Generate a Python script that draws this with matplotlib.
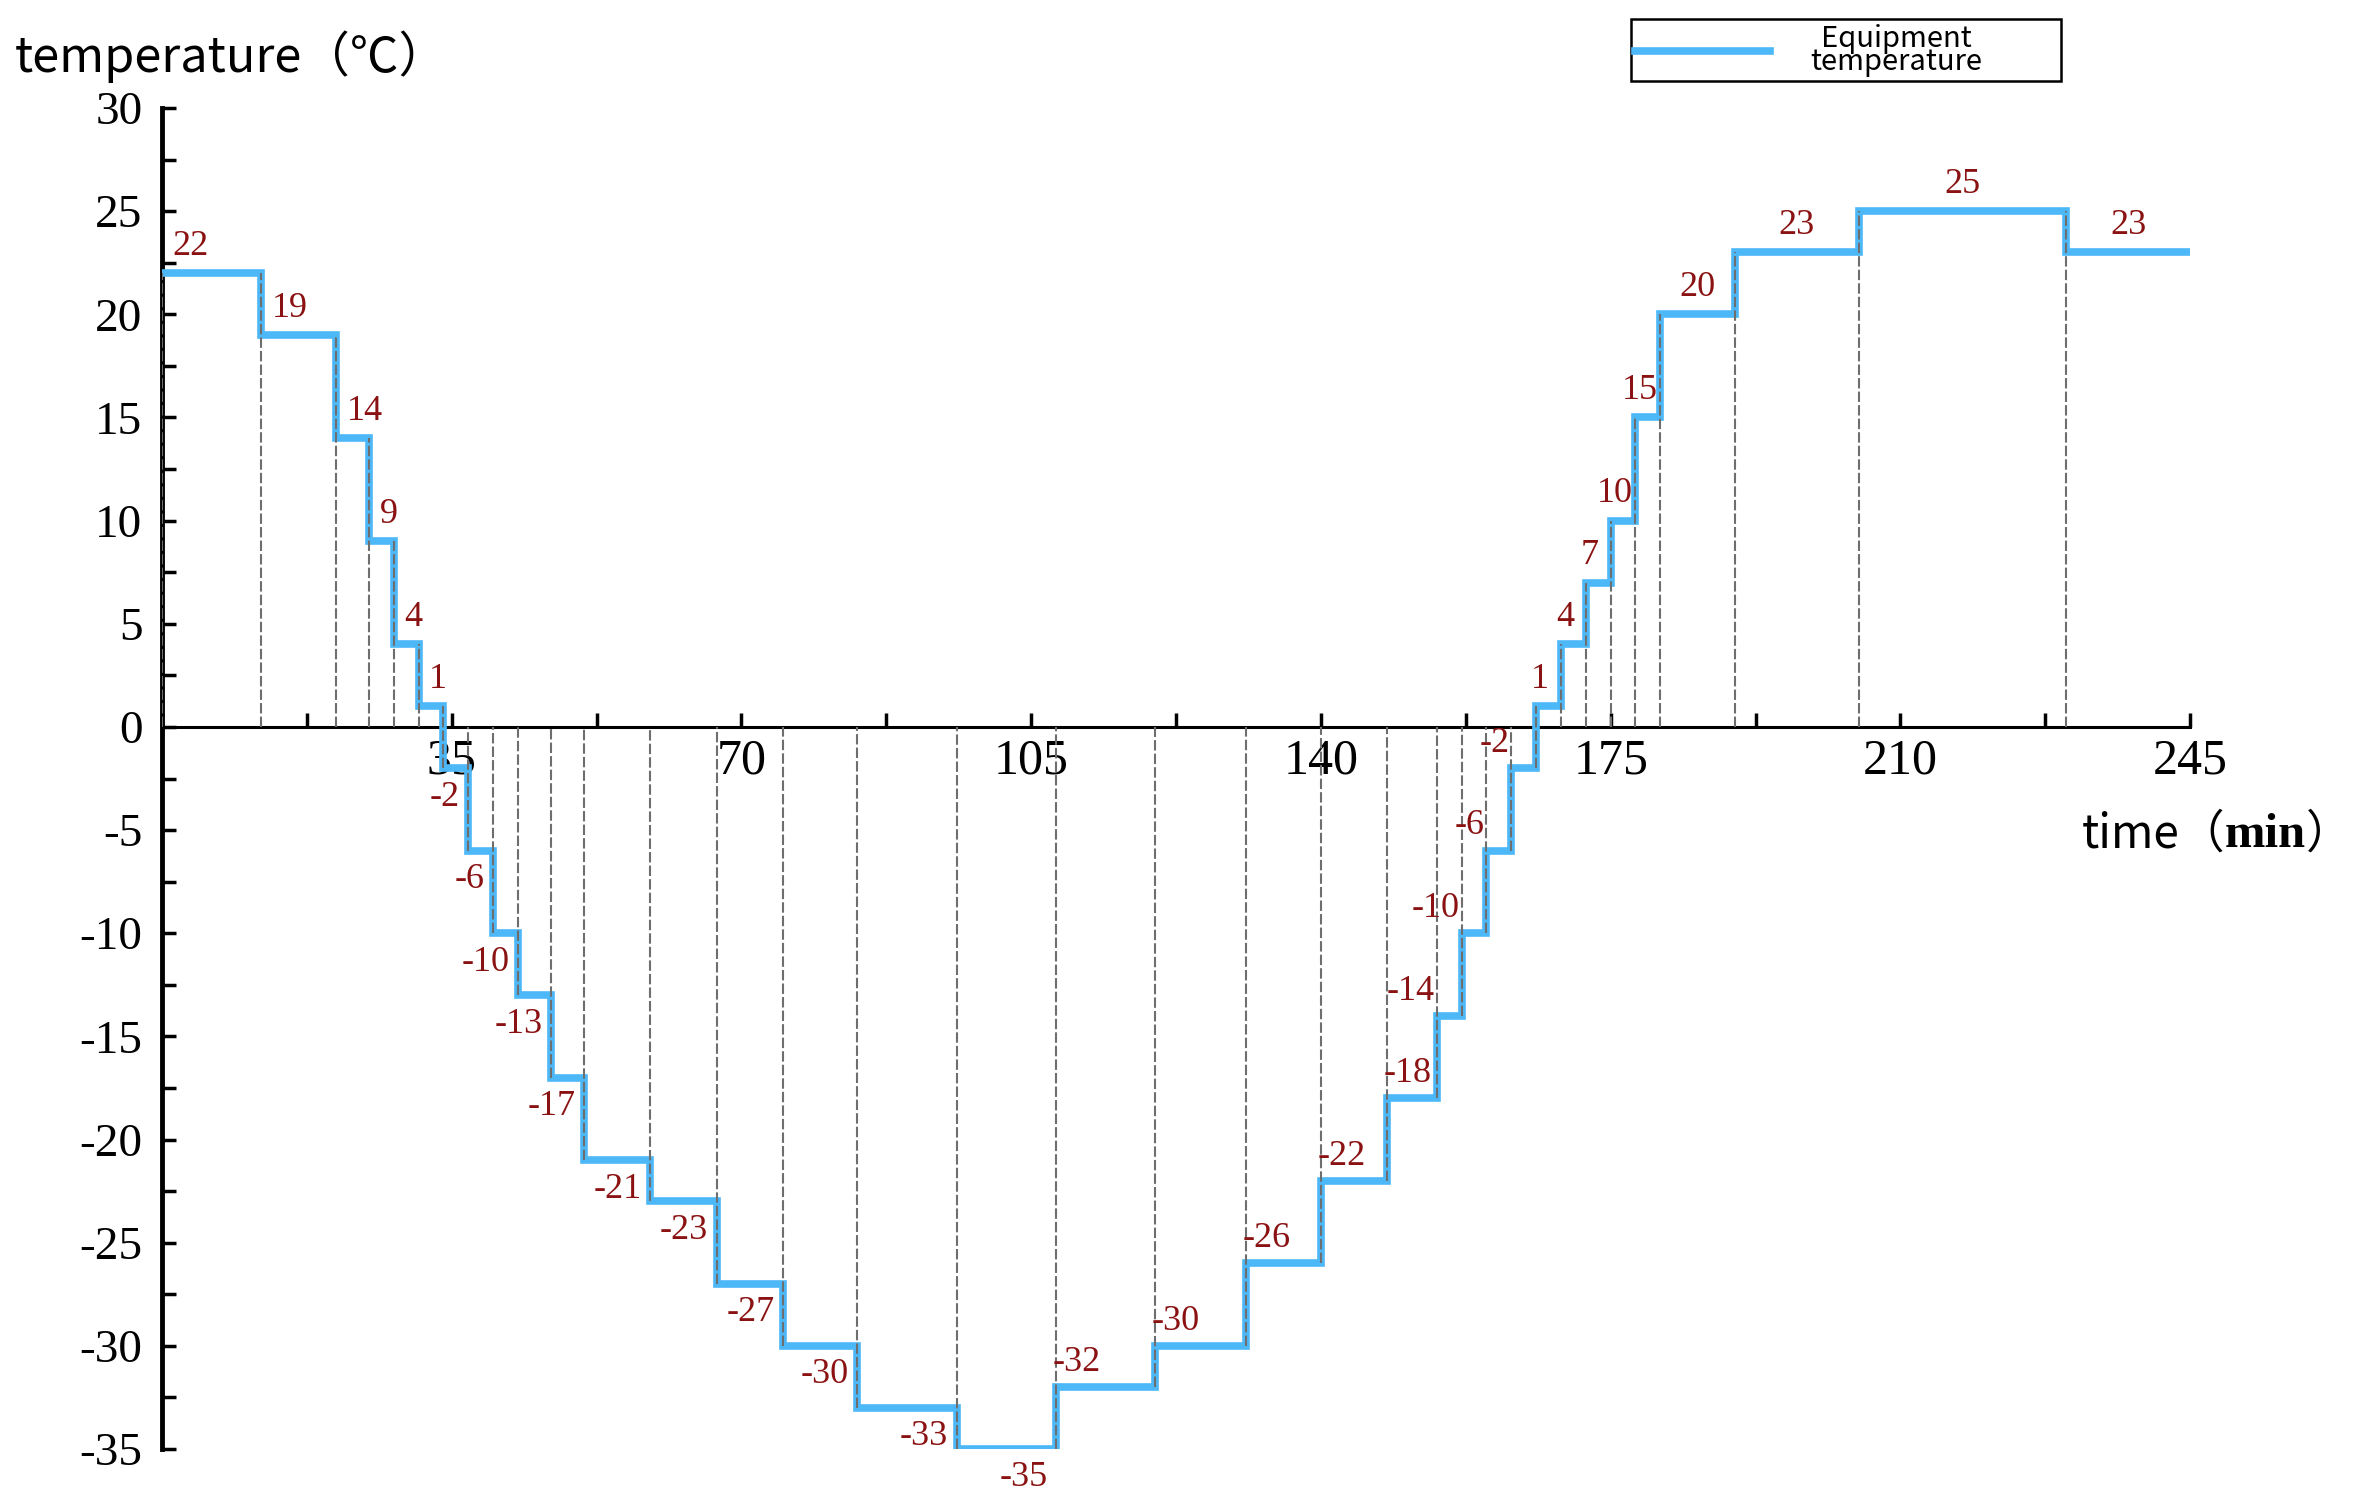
import matplotlib
matplotlib.use("Agg")
import matplotlib.pyplot as plt
from matplotlib.ticker import MultipleLocator
from matplotlib.offsetbox import TextArea, HPacker, AnchoredOffsetbox

plt.rcParams["axes.unicode_minus"] = False

# step profile: time each level starts (min) and the level (deg C)
step_start = [0, 12, 21, 25, 28, 31, 34, 37, 40, 43, 47, 51, 59, 67, 75, 84, 96,
              108, 120, 131, 140, 148, 154, 157, 160, 163, 166, 169, 172, 175,
              178, 181, 190, 205, 230]
step_temp = [22, 19, 14, 9, 4, 1, -2, -6, -10, -13, -17, -21, -23, -27, -30, -33, -35,
             -32, -30, -26, -22, -18, -14, -10, -6, -2, 1, 4, 7, 10,
             15, 20, 23, 25, 23]
end_time = 245

x_ticks = [35, 70, 105, 140, 175, 210, 245]
y_ticks = list(range(-35, 31, 5))

blue = "#4DB8F8"
red = "#8B1212"
serif = "Liberation Serif"
sans = ["Noto Sans CJK SC", "DejaVu Sans"]

fig = plt.figure(figsize=(23.57, 15.07), dpi=100)
ax = fig.add_axes([0.0687, 0.0385, 0.9292 - 0.0687, 0.9283 - 0.0385])

xs = step_start + [end_time]
ys = step_temp + [step_temp[-1]]
ax.step(xs, ys, where="post", color=blue, lw=5.5, solid_joinstyle="miter",
        label="Equipment\ntemperature", zorder=3)

# grey drop lines at every change of level
for i, t in enumerate(step_start):
    prev = step_temp[i - 1] if i > 0 else 0
    cur = step_temp[i]
    lo = min(0, prev, cur)
    hi = max(0, prev, cur)
    ax.vlines(t, lo, hi, colors="#6e6e6e", linestyles=(0, (5, 1.5)), lw=1.5, zorder=4)

# value labels
imin = step_temp.index(min(step_temp))
for i, v in enumerate(step_temp):
    s = step_start[i]
    e = step_start[i + 1] if i + 1 < len(step_start) else end_time
    if i < imin and v >= 0:
        x, y, ha = s + 1.3, v + 1.3, "left"
    elif i <= imin:
        x, y, ha = e - 1.0, v - 1.4, "right"
    elif v < 0 and e - s > 4:
        x, y, ha = s + 2.5, v + 1.2, "center"
    elif v < 0:
        x, y, ha = s - 0.2, v + 1.2, "right"
    elif e - s <= 3:
        x, y, ha = s + 0.5, v + 1.3, "center"
    else:
        x, y, ha = (s + e) / 2, v + 1.3, "center"
    ax.text(x, y, str(v), color=red, fontsize=26, family=serif,
            ha=ha, va="center", zorder=5)

ax.set_xlim(0, end_time)
ax.set_ylim(-35, 30)
ax.spines["top"].set_visible(False)
ax.spines["right"].set_visible(False)
ax.spines["bottom"].set_position(("data", 0))
ax.spines["left"].set_linewidth(3.5)
ax.spines["bottom"].set_linewidth(2.2)

ax.set_xticks(x_ticks)
ax.xaxis.set_minor_locator(MultipleLocator(17.5))
ax.set_yticks(y_ticks)
ax.yaxis.set_minor_locator(MultipleLocator(2.5))
ax.tick_params(axis="both", which="both", direction="in", width=2.5, length=10)
ax.tick_params(axis="x", labelsize=36, pad=8)
ax.tick_params(axis="y", labelsize=34, pad=14)
for lab in ax.get_xticklabels() + ax.get_yticklabels():
    lab.set_family(serif)

fig.text(15 / 2357, 1 - 57 / 1507, "temperature（℃）", family=sans, fontsize=35,
         ha="left", va="center")

xlab = HPacker(children=[
    TextArea("time（", textprops=dict(family=sans, fontsize=33)),
    TextArea("min", textprops=dict(family=serif, fontsize=35, weight="bold")),
    TextArea("）", textprops=dict(family=sans, fontsize=33)),
], align="baseline", pad=0, sep=0)
box = AnchoredOffsetbox(loc="center right", child=xlab, frameon=False, pad=0,
                        bbox_to_anchor=(2352 / 2357, 1 - 834 / 1507),
                        bbox_transform=fig.transFigure, borderpad=0)
fig.add_artist(box)

leg = ax.legend(loc="lower left",
                bbox_to_anchor=(1631 / 2357, 1 - 81 / 1507, 430 / 2357, 63 / 1507),
                bbox_transform=fig.transFigure, mode="expand", borderaxespad=0,
                fancybox=False, edgecolor="black", framealpha=1,
                handlelength=4.6, handletextpad=1.4, borderpad=0.15,
                prop={"family": sans, "size": 21})
leg.get_frame().set_linewidth(1.8)
for t in leg.get_texts():
    t.set_multialignment("center")
    t.set_linespacing(0.7)

fig.savefig("out.png", dpi=100)
